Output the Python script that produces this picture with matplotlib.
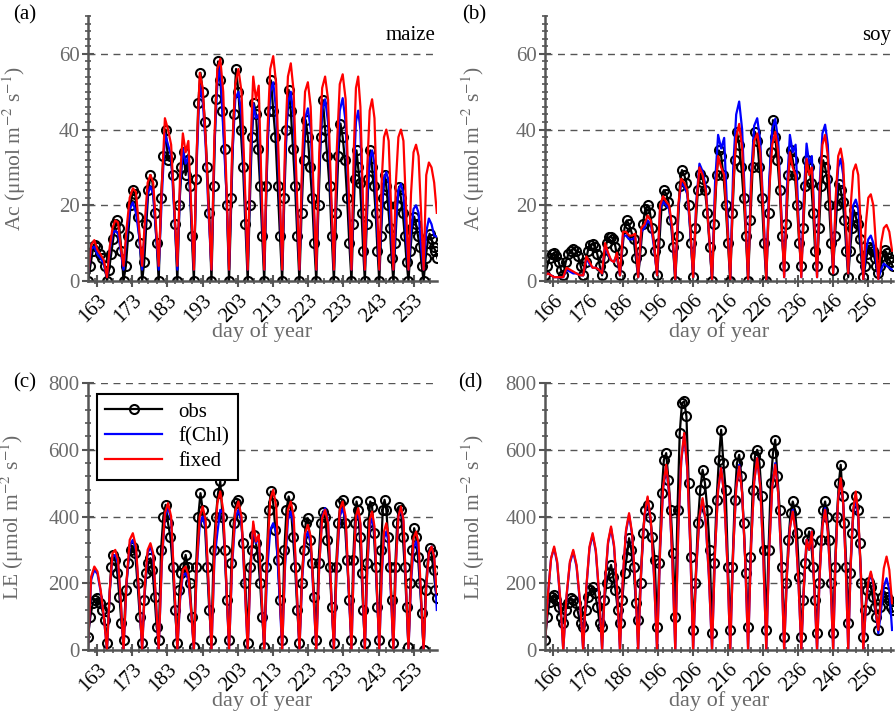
import numpy as np
import matplotlib
matplotlib.use("Agg")
import matplotlib.pyplot as plt
from matplotlib.ticker import MultipleLocator

plt.rcParams['font.family'] = ['Liberation Serif', 'DejaVu Serif']
plt.rcParams['mathtext.fontset'] = 'stix'

# ------------------------------------------------------------
# data: cycle start days, values sampled evenly inside each cycle
# ------------------------------------------------------------
maize_starts = [160.4, 165.8, 170.5, 175.8, 180.5, 185.8, 190.5, 195.5, 200.5, 205.8, 210.5,
                215.6, 220.5, 225.3, 230.3, 235.3, 239.1, 243.2, 247.2, 251.5, 255.8]
maize_end = 260.3
soy_starts = [163.7, 168.9, 174.6, 180.0, 185.1, 190.3, 195.7, 200.9, 206.0, 211.4,
              216.6, 221.7, 226.9, 232.0, 236.9, 241.4, 246.0, 250.3, 254.6, 258.9]
soy_end = 263.6

maize_xticks = [163, 173, 183, 193, 203, 213, 223, 233, 243, 253]
soy_xticks = [166, 176, 186, 196, 206, 216, 226, 236, 246, 256]

# (a) maize Ac
ac_maize_obs = [
    [0, 4, 8, 9.5, 9, 7, 6, 4], [0, 3, 7, 11, 15, 16, 14, 8], [0, 4, 12, 20, 24, 23, 17, 10],
    [0, 5, 15, 24, 28, 26, 18, 10], [0, 22, 33, 40, 32, 33, 28, 15], [0, 20, 30, 34, 28, 32, 25, 12],
    [0, 27, 47, 55, 50, 42, 30, 18], [0, 25, 48, 58, 53, 45, 35, 20], [0, 22, 44, 56, 50, 40, 30, 15],
    [0, 20, 38, 47, 44, 35, 25, 12], [0, 25, 45, 53, 45, 38, 25, 12], [0, 22, 40, 50.5, 45, 35, 25, 12],
    [0, 18, 32, 42.5, 38, 30, 22, 10], [0, 20, 38, 47.8, 40, 33, 25, 12], [0, 18, 33, 41.6, 38, 32, 22, 10],
    [0, 15, 27, 34.5, 30, 26, 18, 8], [0, 15, 27, 34.5, 30, 25, 18, 8], [0, 12, 22, 28, 25, 20, 14, 6],
    [0, 10, 20, 24.9, 22, 18, 12, 5], [0, 8, 14, 17, 15, 12, 9, 4], [0, 6, 10, 12.5, 11, 9, 8, 6]]
ac_maize_fchl = [
    [2, 8.5, 9.1, 7, 6, 4.5], [1, 8, 12.5, 13.3, 12.5, 8], [3, 12, 19, 20.8, 18, 12],
    [3, 14, 23, 25, 23, 13], [3, 22, 39, 36, 33, 18], [3, 25, 35, 31, 33, 18],
    [3, 32, 51.7, 48, 36, 18], [3, 36, 52, 57, 40, 25], [3, 32, 48, 50, 44, 25],
    [3, 30, 46.9, 43, 44, 22], [3, 34, 50, 52.5, 45, 25], [3, 32, 47, 50, 43, 23],
    [3, 29, 43, 45.6, 40, 21], [3, 30, 45, 48, 42, 22], [3, 30, 45, 48.3, 42, 22],
    [3, 28, 42, 45, 40, 20], [3, 22, 32, 34.5, 31, 16], [3, 18, 27, 28.8, 26, 13],
    [3, 16, 24, 25.7, 23, 12], [3, 13, 19, 20, 18, 9], [3, 13, 16.5, 15, 12, 11.7]]
ac_maize_fixed = [
    [2, 9.5, 10.8, 8.2, 7, 5.5], [1, 9, 14, 16, 15.5, 9], [4, 14, 22, 24.5, 23.5, 14],
    [4, 16, 26, 28, 26, 15], [4, 25, 43, 40, 36, 20], [4, 28, 39, 34, 37, 20],
    [3, 35, 55, 51, 38, 20], [3, 38, 56, 58.7, 50, 28], [3, 35, 52, 56, 50, 28],
    [3, 35, 54, 48, 51.6, 25], [3, 38, 56, 59.4, 52, 28], [3, 36, 54, 57.5, 50, 26],
    [3, 33, 50, 52.5, 46, 24], [3, 34, 51, 54, 48, 25], [3, 35, 52, 54.6, 48, 25],
    [3, 34, 51, 54, 46, 24], [3, 30, 45, 48, 43, 22], [3, 26, 38, 40, 37, 20],
    [3, 26, 38, 40, 37, 20], [3, 23, 34, 36, 33, 18], [3, 28, 31.3, 30, 26, 18]]

# (b) soy Ac
ac_soy_obs = [
    [1.5, 4, 6, 7, 7.3, 6.5, 5, 3], [1.5, 5, 7, 8, 8.5, 8, 6.5, 4], [1.5, 5, 8, 9.5, 9.9, 9, 7, 4],
    [1.5, 6, 10, 11.5, 11.7, 11, 9, 5], [1.5, 8, 14, 16, 15, 13, 11, 6], [1, 8, 15, 19, 20, 18, 14, 8],
    [1.5, 10, 20, 24, 23, 21, 16, 9], [0, 12, 25, 29.3, 28, 26, 20, 10], [1, 14, 24, 28.3, 27, 24, 18, 9],
    [0, 15, 28, 34.5, 33, 28, 20, 10], [0, 18, 32, 39.4, 36, 30, 22, 12], [0, 16, 30, 39.4, 37, 30, 22, 10],
    [0, 18, 34, 42.5, 38, 32, 24, 12], [4, 15, 28, 34.5, 32, 28, 20, 10], [4, 14, 25, 31.9, 30, 26, 18, 8],
    [4, 14, 25, 31.9, 30, 27, 20, 10], [3, 12, 20, 25.7, 24, 21, 16, 8], [1, 8, 14, 18.7, 17, 15, 11, 6],
    [1, 4, 7, 9, 8.5, 8, 6, 4], [2, 4, 6.5, 8.1, 7.5, 6, 5, 4]]
ac_soy_fchl = [
    [1.5, 2, 1.5, 1, 1, 1], [1, 3, 2.5, 2, 2, 1.5], [1.5, 6, 4.5, 3.5, 3.5, 3],
    [2, 9.5, 7, 5.5, 5, 7], [1.5, 12, 12, 11, 11, 11.5], [1, 13, 14, 16, 15, 9],
    [1.5, 19, 21, 20, 19, 13], [0.5, 19, 26, 25, 23, 14], [1, 21, 31, 29, 25, 13],
    [0.5, 26, 38.6, 35, 37.8, 18], [0.5, 30, 44, 47.4, 40, 20], [0.5, 28, 41, 43, 37, 19],
    [0.5, 27, 40, 42.8, 37, 19], [1, 25, 38.6, 34, 36, 17], [1, 23, 36.3, 31, 33, 16],
    [1, 26, 39, 41.3, 36, 19], [2, 20, 30, 32.3, 28, 14], [2, 14, 20, 21.5, 19, 10],
    [0.5, 8, 11, 12, 10, 6], [0.5, 3, 4.6, 4, 3.5, 3]]
ac_soy_fixed = [
    [1.5, 2, 1.5, 1, 1, 1], [1, 3.5, 3, 2.5, 2, 1.5], [1.5, 6.5, 5, 3.5, 3.5, 3],
    [2, 10, 7.5, 5.5, 5, 7.5], [1.5, 13, 13, 12, 12, 12.5], [1, 14, 15, 17.3, 16, 10],
    [1.5, 20, 22.4, 21, 20, 14], [0.5, 20, 27, 26, 24, 15], [1, 20, 30, 28, 24, 13],
    [0.5, 22, 33, 30, 28, 15], [0.5, 25, 38, 41.5, 35, 18], [0.5, 25, 37, 39, 34, 18],
    [0.5, 24, 36, 39.4, 34, 18], [1, 22, 34, 30, 28, 15], [1, 20, 32.3, 28, 30, 15],
    [1, 24, 36, 38.6, 33, 18], [2, 22, 33, 35, 31, 16], [2, 20, 29, 30.8, 28, 14],
    [0.5, 15, 22, 22.9, 20, 10], [0.5, 10, 14, 14.8, 13, 8]]

# (c) maize LE
le_maize_obs = [
    [40, 100, 140, 150, 155, 140, 120, 90], [20, 130, 250, 285, 270, 230, 160, 80],
    [30, 180, 260, 300, 310, 290, 200, 100], [20, 150, 230, 260, 275, 240, 160, 70],
    [30, 300, 400, 435, 380, 340, 250, 120], [20, 180, 230, 250, 285, 250, 200, 100],
    [10, 250, 400, 470, 420, 380, 250, 120], [30, 300, 400, 470, 505, 400, 300, 150],
    [30, 260, 380, 440, 450, 400, 320, 200], [20, 250, 300, 345, 320, 280, 200, 100],
    [10, 250, 420, 475, 440, 360, 270, 150], [30, 300, 420, 460, 430, 340, 250, 120],
    [20, 200, 300, 380, 395, 330, 260, 160], [30, 260, 380, 415, 400, 330, 250, 130],
    [20, 250, 380, 440, 450, 380, 270, 150], [30, 270, 380, 445, 420, 340, 230, 120],
    [20, 260, 380, 445, 430, 350, 250, 130], [30, 300, 420, 450, 420, 340, 250, 150],
    [20, 250, 380, 430, 420, 340, 250, 130], [10, 200, 300, 365, 340, 280, 200, 110],
    [0, 180, 260, 305, 290, 240, 180, 155]]
le_maize_fchl = [
    [5, 210, 240, 228, 175, 100], [0, 175, 280, 285, 260, 145], [0, 200, 315, 330, 300, 165],
    [0, 190, 290, 310, 280, 145], [0, 260, 400, 430, 390, 195], [0, 150, 225, 230, 210, 115],
    [0, 245, 375, 400, 365, 190], [0, 270, 350, 420, 410, 210], [0, 255, 395, 420, 385, 200],
    [0, 235, 375, 320, 340, 165], [0, 240, 360, 380, 350, 180], [0, 250, 390, 415, 375, 190],
    [0, 215, 330, 355, 320, 160], [0, 255, 400, 425, 385, 190], [0, 255, 400, 425, 385, 190],
    [0, 255, 390, 415, 375, 185], [0, 240, 370, 395, 355, 180], [0, 215, 335, 355, 320, 160],
    [0, 255, 400, 425, 385, 195], [0, 200, 305, 325, 295, 150], [0, 190, 290, 310, 280, 120]]
le_maize_fixed = [
    [5, 220, 250, 235, 180, 100], [0, 180, 290, 300, 270, 150], [0, 210, 330, 350, 310, 170],
    [0, 200, 300, 320, 290, 150], [0, 270, 410, 440, 400, 200], [0, 160, 240, 250, 225, 120],
    [0, 260, 400, 430, 390, 200], [0, 290, 440, 475, 420, 220], [0, 270, 415, 445, 400, 210],
    [0, 240, 385, 325, 345, 170], [0, 290, 450, 480, 430, 220], [0, 270, 420, 445, 400, 200],
    [0, 230, 350, 375, 340, 170], [0, 255, 395, 420, 380, 190], [0, 270, 420, 445, 400, 200],
    [0, 260, 400, 425, 380, 190], [0, 250, 390, 415, 370, 190], [0, 230, 355, 380, 340, 170],
    [0, 260, 400, 430, 390, 200], [0, 215, 335, 355, 320, 160], [0, 190, 290, 310, 280, 170]]

# (d) soy LE
le_soy_obs = [
    [30, 100, 145, 160, 165, 150, 130, 100], [80, 120, 140, 155, 150, 140, 110, 80],
    [70, 120, 160, 180, 190, 170, 130, 80], [70, 150, 200, 230, 255, 220, 180, 120],
    [80, 150, 230, 280, 335, 300, 250, 140], [90, 200, 350, 420, 435, 400, 340, 270],
    [70, 260, 470, 570, 590, 510, 420, 290], [100, 420, 650, 740, 745, 700, 500, 280],
    [60, 200, 380, 480, 540, 500, 420, 300], [50, 260, 450, 570, 660, 560, 480, 250],
    [60, 250, 450, 560, 585, 520, 380, 230], [70, 280, 480, 580, 600, 560, 460, 300],
    [60, 300, 500, 590, 630, 520, 420, 250], [40, 200, 330, 410, 445, 420, 350, 220],
    [40, 150, 260, 330, 355, 320, 250, 150], [50, 200, 330, 420, 445, 400, 330, 200],
    [50, 250, 400, 500, 555, 460, 380, 250], [80, 230, 350, 430, 460, 420, 320, 200],
    [40, 120, 180, 205, 190, 160, 130, 100], [60, 130, 160, 175, 160, 150, 130, 120]]
le_soy_fchl = [
    [20, 170, 275, 305, 260, 150], [0, 160, 260, 295, 250, 145], [0, 185, 305, 345, 295, 170],
    [0, 200, 320, 365, 310, 180], [0, 220, 355, 405, 345, 200], [0, 245, 400, 455, 385, 225],
    [0, 300, 485, 550, 465, 275], [0, 355, 565, 645, 545, 320], [0, 245, 395, 450, 380, 220],
    [0, 300, 480, 545, 465, 270], [0, 300, 485, 555, 470, 275], [0, 315, 505, 575, 490, 285],
    [0, 305, 490, 560, 470, 280], [0, 230, 365, 420, 355, 205], [0, 195, 330, 300, 355, 175],
    [0, 230, 370, 425, 355, 210], [0, 285, 455, 510, 440, 255], [0, 255, 410, 460, 395, 230],
    [0, 125, 200, 230, 195, 110], [50, 120, 190, 215, 180, 60]]
le_soy_fixed = [
    [20, 170, 275, 310, 265, 155], [0, 165, 265, 300, 255, 150], [0, 190, 310, 350, 300, 175],
    [0, 205, 325, 370, 315, 185], [0, 225, 360, 410, 350, 205], [0, 250, 405, 460, 390, 230],
    [0, 305, 490, 555, 470, 280], [0, 360, 570, 650, 550, 325], [0, 250, 400, 455, 385, 225],
    [0, 300, 480, 545, 465, 270], [0, 300, 485, 550, 470, 275], [0, 315, 505, 575, 490, 285],
    [0, 305, 490, 555, 470, 280], [0, 230, 365, 415, 355, 205], [0, 195, 330, 300, 355, 175],
    [0, 230, 370, 420, 355, 210], [0, 285, 455, 515, 440, 255], [0, 260, 420, 475, 405, 235],
    [0, 130, 205, 235, 200, 115], [60, 155, 245, 280, 240, 140]]


def expand(starts, end, cycles):
    # spread each cycle's samples evenly between its start and the next start
    bounds = list(starts) + [end]
    xs, ys = [], []
    for k, vals in enumerate(cycles):
        xs.extend(np.linspace(bounds[k], bounds[k + 1], len(vals), endpoint=False))
        ys.extend(vals)
    return np.array(xs), np.array(ys)


GRAY_AX = '#555555'
GRAY_TXT = '#6a6a6a'
FS = 15

fig = plt.figure(figsize=(8.96, 7.15), dpi=100)
ax_a = fig.add_axes([0.0982, 0.6070, 0.3895, 0.3706])
ax_b = fig.add_axes([0.6083, 0.6070, 0.3884, 0.3706])
ax_c = fig.add_axes([0.0982, 0.0909, 0.3895, 0.3734])
ax_d = fig.add_axes([0.6083, 0.0909, 0.3884, 0.3734])

panels = [
    (ax_a, maize_starts, maize_end, ac_maize_obs, ac_maize_fchl, ac_maize_fixed, 'Ac', 70, 20, 2,
     maize_xticks, (160.4, 259.6), 'maize', -0.172),
    (ax_b, soy_starts, soy_end, ac_soy_obs, ac_soy_fchl, ac_soy_fixed, 'Ac', 70, 20, 2,
     soy_xticks, (163.7, 263.1), 'soy', -0.166),
    (ax_c, maize_starts, maize_end, le_maize_obs, le_maize_fchl, le_maize_fixed, 'LE', 800, 200, 40,
     maize_xticks, (160.4, 259.6), None, -0.178),
    (ax_d, soy_starts, soy_end, le_soy_obs, le_soy_fchl, le_soy_fixed, 'LE', 800, 200, 40,
     soy_xticks, (163.7, 263.1), None, -0.166),
]

for (ax, starts, end, obs, fchl, fixed, var, ytop, ymaj, ymin, xt, xlim, crop, ylab_x) in panels:
    xo, yo = expand(starts, end, obs)
    xb, yb = expand(starts, end, fchl)
    xr, yr = expand(starts, end, fixed)
    h_obs, = ax.plot(xo, yo, color='black', lw=1.6, marker='o', ms=6.5, mfc='none',
                     mec='black', mew=1.5)
    h_chl, = ax.plot(xb, yb, color='#0000ff', lw=1.6)
    h_fix, = ax.plot(xr, yr, color='#ff0000', lw=1.6)

    ax.set_xlim(*xlim)
    ax.set_ylim(0, ytop)
    ax.set_yticks(np.arange(0, ytop + 1, ymaj) if var == 'LE' else [0, 20, 40, 60])
    ax.yaxis.set_minor_locator(MultipleLocator(ymin))
    ax.set_xticks(xt)
    ax.xaxis.set_minor_locator(MultipleLocator(2.5))
    ax.set_xticklabels([str(v) for v in xt], rotation=45, ha='right', rotation_mode='anchor')

    for gy in ax.get_yticks()[1:]:
        ax.axhline(gy, color=GRAY_AX, lw=1.0, ls=(0, (5, 4)), zorder=0)

    for s in ['top', 'right']:
        ax.spines[s].set_visible(False)
    for s in ['left', 'bottom']:
        ax.spines[s].set_color(GRAY_AX)
        ax.spines[s].set_linewidth(1.8)
    ax.tick_params(which='major', direction='inout', length=8, width=1.5, color=GRAY_AX)
    ax.tick_params(which='minor', direction='inout', length=4, width=1.2, color=GRAY_AX)
    ax.tick_params(axis='y', labelsize=FS, labelcolor=GRAY_TXT, pad=2)
    ax.tick_params(axis='x', labelsize=FS, labelcolor='black', pad=3)

    ax.set_xlabel('day of year', fontsize=16, color=GRAY_TXT, labelpad=-3)
    ax.set_ylabel(var + r' (μmol m$^{-2}$ s$^{-1}$)', fontsize=15.5, color=GRAY_TXT)
    ax.yaxis.set_label_coords(ylab_x, 0.5)
    if crop:
        ax.text(0.995, 0.928, crop, transform=ax.transAxes, ha='right', va='center',
                fontsize=FS, color='black')

leg = ax_c.legend([h_obs, h_chl, h_fix], ['obs', 'f(Chl)', 'fixed'], loc='upper left',
                  bbox_to_anchor=(0.026, 0.96), borderaxespad=0, fancybox=False,
                  edgecolor='black', framealpha=1, fontsize=FS, handlelength=2.7,
                  numpoints=1, borderpad=0.4, labelspacing=0.25)
leg.get_frame().set_linewidth(1.5)

fig.text(13 / 896, 1 - 15 / 715, '(a)', fontsize=FS, va='center', ha='left')
fig.text(462 / 896, 1 - 15 / 715, '(b)', fontsize=FS, va='center', ha='left')
fig.text(13 / 896, 1 - 383 / 715, '(c)', fontsize=FS, va='center', ha='left')
fig.text(458 / 896, 1 - 383 / 715, '(d)', fontsize=FS, va='center', ha='left')

fig.savefig('out.png', dpi=100)
